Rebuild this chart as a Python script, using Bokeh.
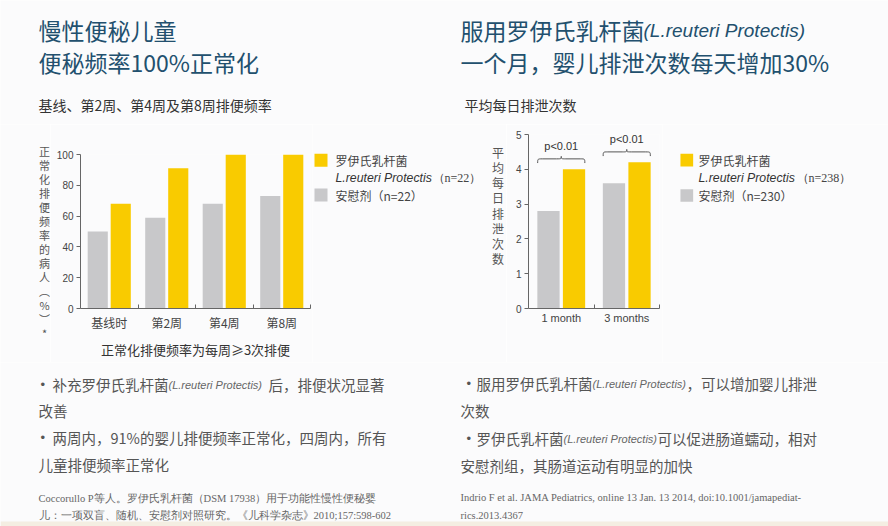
import numpy as np
from bokeh.plotting import figure
from bokeh.models import Range1d, FixedTicker
from bokeh.layouts import column, row
from bokeh.core.properties import value
from bokeh.embed import file_html
from bokeh.resources import INLINE

# ---------------- data ----------------
left_categories = ["基线时", "第2周", "第4周", "第8周"]
left_placebo = [50, 59, 68, 73]
left_reuteri = [68, 91, 100, 100]
left_yticks = [0, 20, 40, 60, 80, 100]

right_categories = ["1 month", "3 months"]
right_placebo = [2.8, 3.6]
right_reuteri = [4.0, 4.2]
right_yticks = [0, 1, 2, 3, 4, 5]
right_pvalues = ["p<0.01", "p<0.01"]

left_ylabel_chars = list("正常化排便频率的病人") + ["︵", "%", "︶", "*"]
right_ylabel_chars = list("平均每日排泄次数")

# ---------------- styles ----------------
BG = "#fbfbfc"
YELLOW = "#f9cb00"
GRAY = "#c8c8ca"
NAVY = "#22506e"
TXT = "#555555"
CJK = "Noto Sans CJK SC"
SANS = "Liberation Sans"
SERIF = "Liberation Serif"


def base(width, height, x_range, y_range, **kw):
    return figure(width=width, height=height, x_range=x_range, y_range=y_range,
                  output_backend="svg", toolbar_location=None,
                  background_fill_color=BG, border_fill_color=BG,
                  outline_line_color=None, frame_align=False, **kw)


def canvas(x0, x1, y0, y1):
    p = base(x1 - x0, y1 - y0, Range1d(x0, x1), Range1d(y1, y0), min_border=0,
             x_axis_location=None, y_axis_location=None)
    p.grid.visible = False
    return p


def txt(p, x, y, s, size, color, font=CJK, style="normal", align="left", baseline="middle"):
    p.text(x=[x], y=[y], text=[s], text_font=value(font), text_font_size=f"{size}px",
           text_color=color, text_font_style=style, text_align=align, text_baseline=baseline)


# ---------------- header ----------------
head = canvas(0, 888, 0, 124)
txt(head, 38, 29, "慢性便秘儿童", 23, NAVY)
txt(head, 38, 61, "便秘频率100%正常化", 23, NAVY)
txt(head, 38, 104.5, "基线、第2周、第4周及第8周排便频率", 14, "#333333")
txt(head, 460, 29, "服用罗伊氏乳杆菌", 23, NAVY)
txt(head, 643, 30, "(L.reuteri Protectis)", 19, NAVY, SANS, "italic")
txt(head, 460, 61, "一个月，婴儿排泄次数每天增加30%", 23, NAVY)
txt(head, 464, 104, "平均每日排泄次数", 14, "#333333")

MID_TOP, MID_BOT = 124, 362

# ---------------- left y label ----------------
ylabL = canvas(0, 50, MID_TOP, MID_BOT)
for i, ch in enumerate(left_ylabel_chars):
    txt(ylabL, 44, 150 + 14 * i, ch, 11, TXT, align="center")


def style_axes(p, cats, yticks, xfont, xsize, xstandoff):
    n = len(cats)
    xa = p.xaxis[0]
    centers = [i + 0.5 for i in range(n)]
    xa.ticker = FixedTicker(ticks=centers, minor_ticks=[float(i) for i in range(1, n + 1)])
    xa.major_label_overrides = {c: lab for c, lab in zip(centers, cats)}
    xa.major_tick_in = 0
    xa.major_tick_out = 0
    xa.minor_tick_in = 4
    xa.minor_tick_out = 0
    xa.minor_tick_line_color = "#666666"
    xa.axis_line_color = "#666666"
    xa.major_label_text_font = xfont
    xa.major_label_text_font_size = xsize
    xa.major_label_text_color = "#444444"
    xa.major_label_standoff = xstandoff
    ya = p.yaxis[0]
    ya.ticker = FixedTicker(ticks=yticks, minor_ticks=[])
    ya.major_tick_out = 4
    ya.major_tick_in = 0
    ya.minor_tick_out = 0
    ya.minor_tick_in = 0
    ya.major_tick_line_color = "#666666"
    ya.axis_line_color = "#666666"
    ya.major_label_text_font = SANS
    ya.major_label_text_font_size = "10px"
    ya.major_label_text_color = "#444444"
    ya.major_label_standoff = 3
    p.grid.visible = False


# ---------------- left chart ----------------
nL = len(left_categories)
idxL = np.arange(nL)
chartL = base(262, MID_BOT - MID_TOP, Range1d(0, nL), Range1d(0, 100),
              min_border_left=30, min_border_right=2, min_border_top=30, min_border_bottom=54)
chartL.vbar(x=idxL + 0.3, top=left_placebo, width=0.35, fill_color=GRAY, line_color=None)
chartL.vbar(x=idxL + 0.7, top=left_reuteri, width=0.35, fill_color=YELLOW, line_color=None)
style_axes(chartL, left_categories, left_yticks, CJK, "12px", 5)
chartL.xaxis[0].axis_label = "正常化排便频率为每周≥3次排便"
chartL.xaxis[0].axis_label_text_font = CJK
chartL.xaxis[0].axis_label_text_font_size = "13px"
chartL.xaxis[0].axis_label_text_font_style = "normal"
chartL.xaxis[0].axis_label_text_color = "#333333"
chartL.xaxis[0].axis_label_standoff = 6

# ---------------- middle: left legend + right y label ----------------
mid = canvas(312, 506, MID_TOP, MID_BOT)
mid.rect(x=[320.5, 320.5], y=[159.7, 194.5], width=13, height=13,
         fill_color=[YELLOW, GRAY], line_color=None)
txt(mid, 335, 160, "罗伊氏乳杆菌", 12, "#444444")
txt(mid, 335, 177, "L.reuteri Protectis", 12.3, "#333333", SANS, "italic")
txt(mid, 432, 177, "（n=22）", 12, "#444444", SERIF)
txt(mid, 335, 195, "安慰剂（n=22）", 12, "#444444")
for i, ch in enumerate(right_ylabel_chars):
    txt(mid, 497.5, 151.7 + 15.2 * i, ch, 12, TXT, align="center")

# ---------------- right chart ----------------
nR = len(right_categories)
idxR = np.arange(nR)
chartR = base(156, MID_BOT - MID_TOP, Range1d(0, nR), Range1d(0, 5),
              min_border_left=22, min_border_right=3, min_border_top=10, min_border_bottom=54)
chartR.vbar(x=idxR + 0.305, top=right_placebo, width=0.34, fill_color=GRAY, line_color=None)
chartR.vbar(x=idxR + 0.695, top=right_reuteri, width=0.34, fill_color=YELLOW, line_color=None)
style_axes(chartR, right_categories, right_yticks, SANS, "11px", 3)

# significance braces above each group
for i in range(nR):
    t = max(right_placebo[i], right_reuteri[i])
    xl, xr, xm = i + 0.14, i + 0.86, i + 0.5
    ye, yf, yp = t + 0.18, t + 0.30, t + 0.37
    d = 0.07
    chartR.bezier(x0=[xl, xm - d, xm + d, xr - d], y0=[ye, yf, yf, yf],
                  x1=[xl + d, xm, xm, xr], y1=[yf, yp, yp, ye],
                  cx0=[xl, xm, xm, xr], cy0=[yf, yf, yf, yf],
                  cx1=[xl, xm, xm, xr], cy1=[yf, yf, yf, yf],
                  line_color="#555555", line_width=1)
    chartR.segment(x0=[xl + d, xm + d], y0=[yf, yf], x1=[xm - d, xr - d], y1=[yf, yf],
                   line_color="#555555", line_width=1)
    chartR.text(x=[xm], y=[t + 0.67], text=[right_pvalues[i]], text_font=value(SANS),
                text_font_size="11px", text_color="#333333", text_align="center",
                text_baseline="middle")

# ---------------- right legend ----------------
legR = canvas(662, 888, MID_TOP, MID_BOT)
legR.rect(x=[686.3, 686.3], y=[159.7, 195], width=12.7, height=12.7,
          fill_color=[YELLOW, GRAY], line_color=None)
txt(legR, 698, 159.5, "罗伊氏乳杆菌", 12, "#444444")
txt(legR, 698, 177, "L.reuteri Protectis", 12.3, "#333333", SANS, "italic")
txt(legR, 796, 177, "（n=238）", 12, "#444444", SERIF)
txt(legR, 698, 195, "安慰剂（n=230）", 12, "#444444")

# ---------------- footer ----------------
foot = canvas(0, 888, MID_BOT, 526)
# left
txt(foot, 40, 383.5, "•", 13, TXT, SANS)
txt(foot, 52, 383.5, "补充罗伊氏乳杆菌", 14.5, TXT)
txt(foot, 168, 384, "(L.reuteri   Protectis)", 11, "#666666", SANS, "italic")
txt(foot, 268, 383.5, "后，排便状况显著", 14.5, TXT)
txt(foot, 38, 409.5, "改善", 14.5, TXT)
txt(foot, 40, 437, "•", 13, TXT, SANS)
txt(foot, 52, 437, "两周内，91%的婴儿排便频率正常化，四周内，所有", 14.5, TXT)
txt(foot, 38, 464, "儿童排便频率正常化", 14.5, TXT)
txt(foot, 38, 498, "Coccorullo  P等人。罗伊氏乳杆菌（DSM  17938）用于功能性慢性便秘婴", 10.5, "#666666", SERIF)
txt(foot, 38, 515, "儿：一项双盲、随机、安慰剂对照研究。《儿科学杂志》2010;157:598-602", 10.5, "#666666", SERIF)
# right
txt(foot, 466, 383, "•", 13, TXT, SANS)
txt(foot, 476, 383, "服用罗伊氏乳杆菌", 14.5, TXT)
txt(foot, 592, 383.5, "(L.reuteri Protectis)", 11, "#666666", SANS, "italic")
txt(foot, 686, 383, "，可以增加婴儿排泄", 14.5, TXT)
txt(foot, 460, 410, "次数", 14.5, TXT)
txt(foot, 466, 438, "•", 13, TXT, SANS)
txt(foot, 476, 438, "罗伊氏乳杆菌", 14.5, TXT)
txt(foot, 563, 438.5, "(L.reuteri Protectis)", 11, "#666666", SANS, "italic")
txt(foot, 657, 438, "可以促进肠道蠕动，相对", 14.5, TXT)
txt(foot, 460, 465, "安慰剂组，其肠道运动有明显的加快", 14.5, TXT)
txt(foot, 460, 497, "Indrio F et al. JAMA Pediatrics, online 13 Jan. 13 2014, doi:10.1001/jamapediat-", 10.5, "#666666", SERIF)
txt(foot, 460, 515, "rics.2013.4367", 10.5, "#666666", SERIF)
foot.quad(left=[0], right=[888], top=[521], bottom=[526], fill_color="#f4eee2", line_color=None)

layout = column(head, row(ylabL, chartL, mid, chartR, legR), foot)

open("out.html", "w").write(file_html(layout, INLINE))
